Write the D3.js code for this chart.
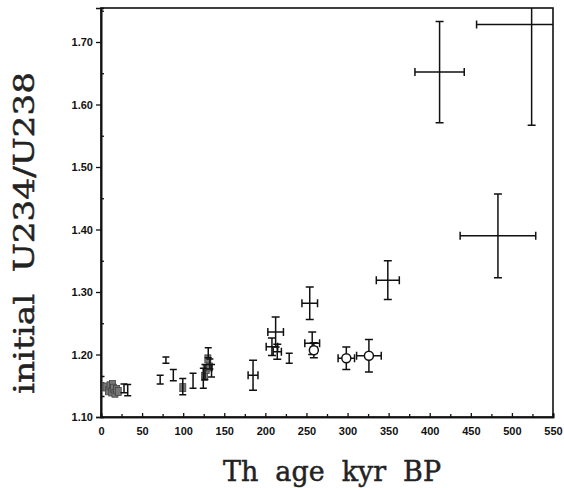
<!DOCTYPE html>
<html>
<head>
<meta charset="utf-8">
<script src="https://cdn.jsdelivr.net/npm/d3@7"></script>
<style>
  body { margin: 0; background: #fff; }
  .tick text { font-family: "Liberation Sans", Arial, sans-serif; font-weight: bold; font-size: 11px; }
  .title { white-space: pre; }
</style>
</head>
<body>
<div id="chartDiv"></div>
<script>
// crosses: error bars in age and ratio
var crossAge      = [412, 524, 483, 349, 254, 257, 212.5, 208, 214.5, 185];
var crossRatio    = [1.652, 1.728, 1.390, 1.319, 1.282, 1.218, 1.236, 1.2125, 1.2045, 1.167];
var crossAgeErr   = [30, 67, 46, 14, 9.5, 9, 9.5, 7, 5, 6];
var crossRatioErr = [0.081, 0.161, 0.067, 0.031, 0.026, 0.018, 0.024, 0.014, 0.012, 0.024];

// open circles
var circleAge      = [259, 298.5, 326];
var circleRatio    = [1.207, 1.194, 1.198];
var circleAgeErr   = [4, 10, 15];
var circleRatioErr = [0.012, 0.018, 0.026];

// small I-bars (ratio error only)
var barAge      = [0, 28, 32.5, 72, 79, 88, 99.5, 112, 124.5, 126.5, 130.5, 132.5, 134.5, 229];
var barRatio    = [1.149, 1.146, 1.143, 1.160, 1.191, 1.167, 1.1485, 1.158, 1.162, 1.172, 1.203, 1.185, 1.174, 1.194];
var barRatioErr = [0.016, 0.007, 0.009, 0.007, 0.005, 0.009, 0.013, 0.012, 0.016, 0.012, 0.008, 0.008, 0.01, 0.008];

// grey filled squares
var squareAge   = [0, 6, 9, 11, 13, 14, 15, 17, 19, 21, 99.5, 126, 128, 130, 132];
var squareRatio = [1.149, 1.148, 1.142, 1.150, 1.140, 1.152, 1.146, 1.138, 1.144, 1.141, 1.147, 1.165, 1.176, 1.193, 1.180];

var xTicks = [0, 50, 100, 150, 200, 250, 300, 350, 400, 450, 500, 550];
var yTicks = [1.10, 1.20, 1.30, 1.40, 1.50, 1.60, 1.70];

var margin = {top: 8, right: 11, bottom: 71, left: 101},
    width = 564 - margin.left - margin.right,
    height = 488 - margin.top - margin.bottom;

var svg = d3.select("#chartDiv")
  .append("svg")
    .attr("width", 564)
    .attr("height", 488)

const g = svg.append("g")
    .attr("transform", "translate(" + margin.left + "," + margin.top + ")");

var xScale = d3.scaleLinear().domain([0, 550]).range([0, width]);
var yScale = d3.scaleLinear().domain([1.10, 1.7544]).range([height, 0]);

g.append("clipPath").attr("id", "clip")
  .append("rect").attr("width", width).attr("height", height);

// frame
g.append("rect")
  .attr("width", width).attr("height", height)
  .attr("fill", "none").attr("stroke", "#111").attr("stroke-width", 1.6);

// x axis: ticks inside, labels below
g.append("g")
  .attr("transform", "translate(0," + height + ")")
  .call(d3.axisBottom(xScale).tickValues(xTicks).tickSize(-4).tickPadding(10).tickFormat(d3.format("d")));
g.append("g")
  .attr("transform", "translate(0," + height + ")")
  .call(d3.axisBottom(xScale).tickValues(d3.range(25, 550, 50)).tickSize(-3).tickFormat(""));

// y axis: major ticks outside, minor inside
g.append("g")
  .call(d3.axisLeft(yScale).tickValues(yTicks).tickSize(5).tickPadding(3).tickFormat(d3.format(".2f")));
g.append("g")
  .call(d3.axisLeft(yScale).tickValues([1.15, 1.25, 1.35, 1.45, 1.55, 1.65, 1.75]).tickSize(-3).tickFormat(""));

g.selectAll(".domain").attr("stroke", "#111").attr("stroke-width", 1.6);
g.selectAll(".tick line").attr("stroke", "#111").attr("stroke-width", 1.3);
g.selectAll(".tick text").attr("fill", "#111");

var marks = g.append("g").attr("clip-path", "url(#clip)")
  .attr("stroke", "#111").attr("stroke-width", 1.5).attr("fill", "none");

function errBars(sel, age, ratio, ageErr, ratioErr, cap) {
  var x = xScale(age), y = yScale(ratio);
  var y0 = yScale(ratio - ratioErr), y1 = yScale(ratio + ratioErr);
  var p = "M" + x + "," + y0 + "V" + y1 +
          "M" + (x - cap) + "," + y0 + "H" + (x + cap) +
          "M" + (x - cap) + "," + y1 + "H" + (x + cap);
  if (ageErr > 0) {
    var x0 = xScale(age - ageErr), x1 = xScale(age + ageErr);
    p += "M" + x0 + "," + y + "H" + x1 +
         "M" + x0 + "," + (y - cap) + "V" + (y + cap) +
         "M" + x1 + "," + (y - cap) + "V" + (y + cap);
  }
  sel.append("path").attr("d", p);
}

// grey squares drawn first
squareAge.forEach(function(a, i) {
  marks.append("rect")
    .attr("x", xScale(a) - 3).attr("y", yScale(squareRatio[i]) - 4)
    .attr("width", 6).attr("height", 8)
    .attr("fill", i == 0 ? "#555" : "#777").attr("stroke", "#444").attr("stroke-width", 0.8);
});

barAge.forEach(function(a, i) {
  errBars(marks, a, barRatio[i], 0, barRatioErr[i], 3.5);
});

crossAge.forEach(function(a, i) {
  errBars(marks, a, crossRatio[i], crossAgeErr[i], crossRatioErr[i], 4);
});

circleAge.forEach(function(a, i) {
  errBars(marks, a, circleRatio[i], circleAgeErr[i], circleRatioErr[i], 4);
  marks.append("circle")
    .attr("cx", xScale(a)).attr("cy", yScale(circleRatio[i])).attr("r", 4.5)
    .attr("fill", "#fff");
});

// axis titles
svg.append("text")
  .attr("class", "title")
  .attr("x", 332).attr("y", 481)
  .attr("text-anchor", "middle")
  .attr("font-family", "'DejaVu Serif', serif")
  .attr("font-size", 28)
  .attr("textLength", 218)
  .attr("lengthAdjust", "spacingAndGlyphs")
  .attr("fill", "#222").attr("stroke", "#222").attr("stroke-width", 0.5)
  .text("Th  age  kyr  BP");

svg.append("text")
  .attr("class", "title")
  .attr("transform", "translate(34,233) rotate(-90)")
  .attr("text-anchor", "middle")
  .attr("font-family", "'DejaVu Serif', serif")
  .attr("font-size", 28)
  .attr("textLength", 322)
  .attr("lengthAdjust", "spacingAndGlyphs")
  .attr("fill", "#222").attr("stroke", "#222").attr("stroke-width", 0.5)
  .text("initial  U234/U238");
</script>
</body>
</html>
